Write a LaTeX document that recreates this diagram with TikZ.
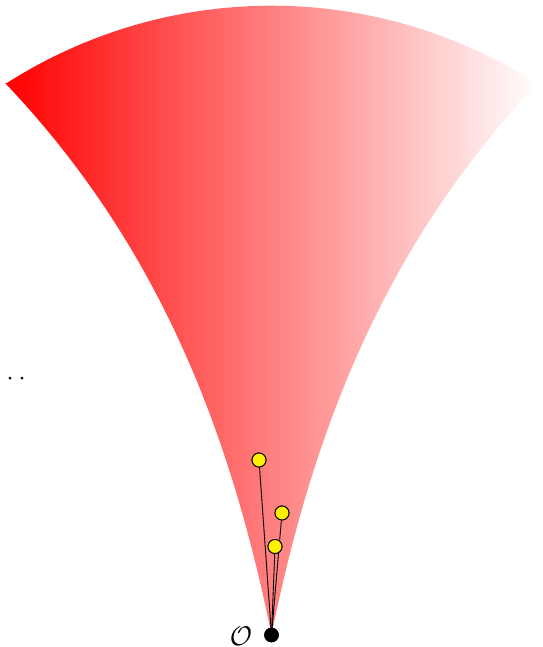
\documentclass[tikz,border=0pt]{standalone}
\begin{document}
\begin{tikzpicture}[x=1pt,y=-1pt,
  obs/.style={circle,draw=black,line width=0.9pt,fill=yellow,minimum size=14pt,inner sep=0pt},
  origin/.style={circle,fill=black,minimum size=14.6pt,inner sep=0pt},
  worldline/.style={draw=black,line width=0.9pt},
  smalldot/.style={circle,fill=black,minimum size=3pt,inner sep=0pt}]
\useasboundingbox (0,0) rectangle (542,647);
% light cone region
\shade[left color=red,right color=white]
  plot[domain=0:552,samples=80] ({271.5-71.8*(exp(0.0028*\x)-1)},{635-\x})
  -- plot[domain=6.6:536.4,samples=80] ({\x},{497-491.3*sqrt(1-((\x-271.5)/491.3)*((\x-271.5)/491.3))})
  -- plot[domain=0:552,samples=80] ({271.5+71.8*(exp(0.0028*(552-\x))-1)},{635-(552-\x)})
  -- cycle;
% nodes
\node[origin] (O) at (271.5,635) {};
\node[obs] (p1) at (259,460) {};
\node[obs] (p2) at (282,513) {};
\node[obs] (p3) at (275,546.5) {};
\node[scale=2.7,inner sep=0pt] (lab) at (241,636) {$\mathcal{O}$};
\node[smalldot] (d1) at (10,378) {};
\node[smalldot] (d2) at (22,378) {};
% world lines
\draw[worldline] (O.center) -- (p1);
\draw[worldline] (O.center) -- (p2);
\draw[worldline] (O.center) -- (p3);
% redraw on top
\node[obs] at (p1) {};
\node[obs] at (p2) {};
\node[obs] at (p3) {};
\node[origin] at (O) {};
\end{tikzpicture}
\end{document}
